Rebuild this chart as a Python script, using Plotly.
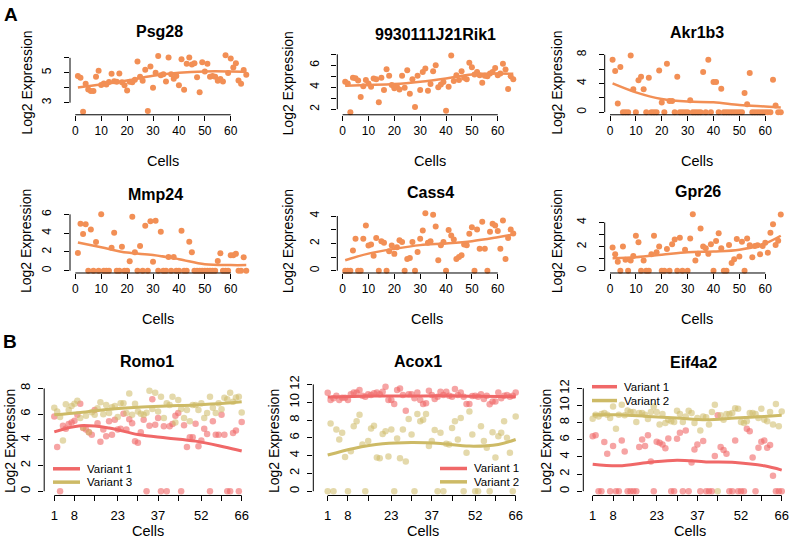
import plotly.graph_objects as go

W, H = 790, 539
FONT = "Liberation Sans, Arial, Helvetica, sans-serif"

cells = list(range(1, 67))
trend_cells = [1, 10, 20, 30, 40, 50, 60, 66]

# ---------------- Panel A data ----------------
psg28 = [4.78, 4.67, 2.4, 4.27, 3.89, 3.78, 3.78, 4.73, 5.13, 4.18,
         4.29, 4.22, 4.38, 4.93, 4.44, 4.4, 4.96, 4.36, 4.16, 3.82,
         4.4, 4.36, 4.53, 5.76, 4.73, 4.47, 5.2, 2.44, 5.42, 4.0,
         5.0, 6.13, 4.84, 4.91, 4.42, 6.02, 4.91, 4.6, 4.78, 4.16,
         5.91, 3.87, 5.6, 6.02, 5.56, 5.64, 4.71, 3.69, 5.71, 5.09,
         5.6, 4.73, 4.78, 4.73, 4.47, 4.58, 4.42, 6.18, 4.98, 5.96,
         5.36, 5.64, 4.49, 4.27, 5.18, 4.87]
psg28_trend = [4.02, 4.22, 4.49, 4.8, 5.0, 5.09, 5.09, 5.07]

rik1 = [4.5, 4.35, 1.73, 4.86, 4.83, 4.62, 3.11, 4.1, 4.65, 4.35,
        4.05, 4.8, 4.74, 2.63, 4.86, 3.74, 5.64, 5.04, 4.2, 3.9,
        4.05, 3.8, 5.04, 3.95, 5.55, 3.41, 4.74, 2.2, 5.04, 3.74,
        5.4, 5.7, 3.68, 4.29, 5.46, 6.0, 4.01, 4.26, 4.47, 1.85,
        4.05, 6.9, 4.56, 5.1, 4.65, 5.46, 4.86, 4.74, 6.24, 5.82,
        5.16, 5.4, 5.1, 4.41, 5.04, 5.0, 5.25, 5.4, 5.76, 5.1,
        5.25, 6.15, 5.61, 3.83, 5.0, 4.74]
rik1_trend = [4.14, 4.2, 4.29, 4.5, 4.8, 5.16, 5.25, 5.22]

akr1b3 = [7.3, 5.75, 1.2, 6.3, 0, 0, 0, 7.9, 3.2, 0,
          4.46, 4.92, 3.2, 0, 4.78, 0, 0, 0, 5.8, 1.33,
          0, 6.76, 1.56, 1.56, 0, 4.92, 0, 0, 0, 0,
          1.65, 0, 0, 0, 0, 5.6, 0, 7.3, 0, 4.2,
          4.2, 0, 3.26, 0, 0, 0, 0, 0, 0, 0,
          0, 2.67, 1.1, 5.47, 0, 0, 0, 0, 0, 0,
          0, 0, 4.5, 0.92, 0, 0]
akr1b3_trend = [4.0, 2.76, 1.84, 1.47, 1.38, 1.0, 0.78, 0.64]

mmp24 = [1.9, 5.0, 3.9, 4.95, 0, 4.4, 0, 3.05, 0, 6.0,
         0, 0, 0, 2.45, 4.04, 0, 0, 2.56, 0, 0,
         1.0, 5.75, 1.97, 0, 2.63, 0, 4.8, 0, 5.26, 0.95,
         5.33, 0, 4.14, 0, 0, 1.47, 0, 1.47, 0, 0,
         4.25, 0, 0, 3.09, 1.97, 0, 0, 0, 0, 0,
         0, 0, 0, 0, 1.05, 1.86, 0, 0, 0, 1.65,
         1.65, 1.8, 0, 0, 1.44, 0]
mmp24_trend = [3.0, 2.5, 1.93, 1.68, 1.23, 0.7, 0.6, 0.6]

cass4 = [0, 0, 0, 1.47, 2.33, 0, 0, 2.33, 3.31, 1.84,
         1.91, 1.1, 2.4, 0, 2.16, 2.04, 0, 1.42, 1.84, 1.23,
         1.72, 2.23, 2.09, 0, 0.86, 0.93, 2.09, 0, 1.37, 2.33,
         2.94, 4.2, 2.04, 2.16, 4.1, 3.24, 0.76, 1.87, 2.09, 0,
         2.97, 2.58, 2.28, 0.86, 1.0, 1.13, 1.91, 1.87, 2.7, 3.17,
         0, 3.02, 1.6, 3.58, 1.6, 0, 2.85, 3.44, 3.31, 2.9,
         1.6, 3.68, 0.86, 2.4, 3.02, 2.72]
cass4_trend = [0.76, 1.25, 1.6, 1.87, 1.99, 2.16, 2.45, 2.65]

gpr26 = [1.92, 1.37, 0.74, 0, 2.0, 0.9, 0, 0.85, 1.23, 2.9,
         2.36, 0, 0.85, 0, 0, 1.37, 2.9, 1.53, 2.0, 0,
         0, 1.8, 0, 2.19, 2.6, 0, 2.74, 0, 1.73, 0,
         2.68, 4.68, 0.85, 1.4, 3.5, 2.0, 1.86, 1.4, 2.19, 0,
         2.47, 3.1, 1.86, 0, 0, 2.14, 0.63, 0.96, 2.63, 1.18,
         2.41, 0, 2.68, 2.11, 1.12, 2.05, 2.11, 1.37, 2.05, 2.33,
         1.5, 3.15, 3.86, 2.14, 2.49, 4.66]
gpr26_trend = [1.04, 1.12, 1.32, 1.53, 1.59, 1.73, 2.27, 2.9]

# ---------------- Panel B data ----------------
romo1_v1 = [5.82, 3.44, 0, 5.1, 4.87, 5.23, 5.36, 5.49, 5.95, 6.8,
            4.92, 4.8, 4.6, 4.4, 6.33, 5.3, 3.85, 4.8, 4.28, 5.44,
            4.4, 5.56, 4.8, 4.87, 6.03, 4.8, 5.6, 5.3, 3.9, 3.77,
            4.6, 5.56, 0, 5.1, 7.15, 5.18, 5.7, 0, 5.05, 0,
            5.05, 5.23, 5.87, 6.08, 0, 5.13, 3.44, 4.2, 4.2, 5.26,
            3.5, 3.95, 4.87, 4.46, 0, 5.44, 4.4, 4.4, 5.95, 4.4,
            0, 0, 4.54, 4.72, 0, 5.38]
romo1_v3 = [6.5, 6.2, 5.77, 3.95, 6.77, 6.33, 6.64, 6.8, 7.05, 5.7,
            4.97, 5.87, 4.6, 6.15, 5.95, 6.46, 6.92, 6.0, 6.72, 6.08,
            6.54, 6.64, 5.77, 6.85, 6.85, 6.08, 7.6, 5.95, 6.8, 6.2,
            6.03, 5.95, 6.1, 7.82, 6.4, 7.67, 6.2, 7.36, 5.7, 6.85,
            6.72, 7.36, 5.36, 7.1, 6.4, 5.7, 6.33, 5.44, 6.72, 6.72,
            6.33, 6.85, 5.7, 6.08, 7.36, 6.5, 6.08, 6.85, 6.38, 7.28,
            7.15, 7.67, 6.97, 7.3, 7.36, 6.13]
romo1_v1_trend = [4.62, 5.1, 4.92, 4.41, 4.15, 3.9, 3.44, 3.13]
romo1_v3_trend = [5.95, 6.13, 6.38, 6.54, 6.64, 6.72, 6.85, 6.97]

acox1_v1 = [11.07, 10.26, 10.44, 10.74, 10.26, 10.5, 10.5, 10.26, 10.89, 11.1,
            11.1, 11.37, 10.74, 10.63, 10.89, 10.81, 11.0, 11.1, 10.89, 11.18,
            11.74, 10.26, 10.26, 9.81, 11.37, 11.55, 10.81, 9.04, 10.89, 10.89,
            10.44, 11.1, 10.26, 9.81, 9.89, 11.3, 10.81, 10.37, 10.63, 11.18,
            10.81, 11.18, 10.74, 10.63, 11.48, 10.81, 11.1, 10.63, 9.81, 9.81,
            10.7, 10.74, 10.63, 10.89, 10.37, 10.74, 9.78, 10.07, 10.07, 11.1,
            10.44, 10.74, 10.81, 10.63, 10.74, 11.1]
acox1_v2 = [0, 7.6, 0, 6.93, 5.81, 6.56, 3.85, 0, 4.5, 7.3,
            7.85, 8.6, 5.26, 0, 5.63, 7.04, 7.37, 3.78, 3.7, 6.44,
            6.74, 3.89, 6.93, 0, 5.93, 3.7, 6.93, 3.33, 8.11, 6.37,
            0, 8.67, 7.85, 8.04, 8.67, 5.07, 5.63, 6.89, 0, 6.56,
            0, 5.33, 5.26, 7.11, 7.85, 5.81, 8.22, 0, 4.33, 8.96,
            6.37, 0, 0, 7.3, 5.63, 4.89, 0, 6.63, 3.78, 6.19,
            6.56, 7.85, 6.0, 4.33, 0, 8.41]
acox1_v1_trend = [10.6, 10.65, 10.7, 10.7, 10.72, 10.68, 10.65, 10.62]
acox1_v2_trend = [4.07, 4.81, 5.33, 5.48, 5.37, 5.07, 5.26, 5.81]

eif4a2_v1 = [6.42, 6.54, 0, 0, 5.73, 4.38, 0, 5.27, 0, 0,
             5.92, 4.62, 0, 0, 0, 0, 5.15, 6.04, 5.27, 6.54,
             3.46, 0, 5.77, 5.65, 5.46, 5.0, 6.15, 0, 0, 6.12,
             6.81, 0, 7.08, 0, 3.35, 4.88, 5.46, 0, 5.85, 0,
             0, 0, 4.12, 8.85, 5.15, 4.8, 4.38, 0, 0, 5.92,
             0, 0, 0, 7.3, 7.0, 3.92, 0, 5.08, 5.77, 5.92,
             5.08, 5.38, 1.8, 0, 0, 0]
eif4a2_v2 = [8.46, 8.92, 8.73, 9.0, 9.12, 8.92, 8.54, 9.88, 7.3, 8.92,
             10.08, 8.85, 9.42, 9.23, 9.23, 8.08, 9.12, 9.12, 8.92, 8.42,
             9.23, 9.88, 9.23, 7.77, 9.0, 7.96, 8.35, 8.15, 8.08, 9.38,
             9.0, 8.08, 8.73, 9.38, 9.12, 7.96, 8.54, 7.08, 8.73, 8.62,
             7.77, 9.23, 10.08, 0, 8.85, 8.35, 9.0, 9.0, 9.12, 9.69,
             9.62, 8.08, 7.96, 8.15, 9.12, 9.12, 9.0, 8.54, 9.62, 8.35,
             8.15, 9.23, 7.77, 10.19, 7.58, 9.31]
eif4a2_v1_trend = [3.15, 2.96, 3.35, 3.62, 3.42, 3.35, 2.96, 2.46]
eif4a2_v2_trend = [8.92, 8.92, 8.73, 8.54, 8.35, 8.54, 8.73, 8.85]

# ---------------- tick labels ----------------
a_xticks = [0, 10, 20, 30, 40, 50, 60]
a_xlabels = ["0", "10", "20", "30", "40", "50", "60"]
b_xticks = [1, 8, 15, 23, 30, 37, 44, 52, 59, 66]
b_xlabels = ["1", "8", "", "23", "", "37", "", "52", "", "66"]

ORANGE = "#F28F55"
RED = "#F06868"
RED_PT = "rgba(240,104,104,0.6)"
KHAKI = "#CDBA66"
KHAKI_PT = "rgba(205,186,102,0.55)"

# geometry in pixels: left, right, top, bottom
panels = [
    dict(title="Psg28", px=(70, 253, 47, 110), xr=[-2.05, 68.6], yr=[2.19, 6.36],
         yt=[3, 4, 5, 6], ytl=["3", "", "5", ""], tpos=(159, 26), lpos=(27.5, 78), cpos=(163, 157),
         series=[(psg28, psg28_trend, ORANGE, ORANGE, None)]),
    dict(title="9930111J21Rik1", px=(337.3, 520, 47, 110), xr=[-2.05, 68.6], yr=[1.49, 7.17],
         yt=[2, 3, 4, 5, 6, 7], ytl=["2", "", "4", "", "6", ""], tpos=(435, 29), lpos=(288.3, 78), cpos=(430, 157),
         series=[(rik1, rik1_trend, ORANGE, ORANGE, None)]),
    dict(title="Akr1b3", px=(604.7, 787.5, 47, 110), xr=[-2.05, 68.6], yr=[-0.37, 8.32],
         yt=[0, 2, 4, 6, 8], ytl=["0", "", "4", "", "8"], tpos=(697, 27), lpos=(556.7, 78), cpos=(697, 157),
         series=[(akr1b3, akr1b3_trend, ORANGE, ORANGE, None)]),
    dict(title="Mmp24", px=(70, 253, 207, 270), xr=[-2.05, 68.6], yr=[-0.24, 6.39],
         yt=[0, 2, 4, 6], ytl=["0", "2", "4", "6"], tpos=(155, 191), lpos=(26.7, 238), cpos=(158, 317),
         series=[(mmp24, mmp24_trend, ORANGE, ORANGE, None)]),
    dict(title="Cass4", px=(337.3, 520, 207, 270), xr=[-2.05, 68.6], yr=[-0.17, 4.39],
         yt=[0, 1, 2, 3, 4], ytl=["0", "", "2", "", "4"], tpos=(430, 189), lpos=(288, 238), cpos=(427, 317),
         series=[(cass4, cass4_trend, ORANGE, ORANGE, None)]),
    dict(title="Gpr26", px=(604.7, 787.5, 207, 270), xr=[-2.05, 68.6], yr=[-0.19, 4.98],
         yt=[0, 1, 2, 3, 4], ytl=["0", "", "2", "", "4"], tpos=(698, 188), lpos=(557, 238), cpos=(697, 317),
         series=[(gpr26, gpr26_trend, ORANGE, ORANGE, None)]),
    dict(title="Romo1", px=(44.2, 249.2, 380, 495), xr=[-2.5, 68.6], yr=[-0.33, 8.52],
         yt=[0, 2, 4, 6, 8], ytl=["0", "2", "4", "6", "8"], tpos=(147, 359), lpos=(10, 440), cpos=(148, 531),
         series=[(romo1_v1, romo1_v1_trend, RED_PT, RED, "Variant 1"),
                 (romo1_v3, romo1_v3_trend, KHAKI_PT, KHAKI, "Variant 3")],
         legend=(53, 80, 468, 13.5)),
    dict(title="Acox1", px=(313.3, 523.2, 380, 495), xr=[-3.98, 68.6], yr=[-0.48, 12.3],
         yt=[0, 2, 4, 6, 8, 10, 12], ytl=["0", "2", "4", "6", "8", "10", "12"], tpos=(418, 359), lpos=(274, 440), cpos=(423, 531),
         series=[(acox1_v1, acox1_v1_trend, RED_PT, RED, "Variant 1"),
                 (acox1_v2, acox1_v2_trend, KHAKI_PT, KHAKI, "Variant 2")],
         legend=(440, 467, 467.7, 13.5)),
    dict(title="Eif4a2", px=(583.3, 790, 380, 495), xr=[-2.23, 68.85], yr=[-0.5, 12.77],
         yt=[0, 2, 4, 6, 8, 10, 12], ytl=["0", "2", "4", "6", "8", "10", "12"], tpos=(693, 361), lpos=(546, 440), cpos=(690, 531),
         series=[(eif4a2_v1, eif4a2_v1_trend, RED_PT, RED, "Variant 1"),
                 (eif4a2_v2, eif4a2_v2_trend, KHAKI_PT, KHAKI, "Variant 2")],
         legend=(592, 617, 385, 14)),
]

fig = go.Figure()
layout = dict(width=W, height=H, margin=dict(l=0, r=0, t=0, b=0),
              paper_bgcolor="white", plot_bgcolor="white", showlegend=False,
              font=dict(family=FONT, color="black"))
shapes, annotations = [], []

def px2x(p):
    return p / W

def py2y(p):
    return 1 - p / H

for i, p in enumerate(panels, start=1):
    sfx = "" if i == 1 else str(i)
    xa, ya = "x" + sfx, "y" + sfx
    L, R, T, B = p["px"]
    is_b = i >= 7
    xt = b_xticks if is_b else a_xticks
    xtl = b_xlabels if is_b else a_xlabels
    tick_size = 13 if is_b else 12
    layout["xaxis" + sfx] = dict(domain=[px2x(L), px2x(R)], range=p["xr"], anchor=ya,
                                 tickvals=xt, ticktext=xtl, ticks="outside", ticklen=5,
                                 tickcolor="black", tickwidth=1, showgrid=False, zeroline=False,
                                 showline=False, tickfont=dict(size=tick_size, family=FONT),
                                 ticklabelstandoff=3 if is_b else 0, fixedrange=True)
    layout["yaxis" + sfx] = dict(domain=[py2y(B), py2y(T)], range=p["yr"], anchor=xa,
                                 tickvals=p["yt"], ticktext=p["ytl"], ticks="outside", ticklen=5,
                                 tickcolor="black", tickwidth=1, showgrid=False, zeroline=False,
                                 showline=False, tickangle=-90,
                                 tickfont=dict(size=tick_size, family=FONT),
                                 ticklabelstandoff=3 if is_b else 8, fixedrange=True)
    # R-style axis lines spanning first..last tick
    shapes.append(dict(type="line", xref=xa + " domain", yref=ya, x0=0, x1=0,
                       y0=p["yt"][0], y1=p["yt"][-1], line=dict(color="black", width=1)))
    shapes.append(dict(type="line", xref=xa, yref=ya + " domain", x0=xt[0], x1=xt[-1],
                       y0=0, y1=0, line=dict(color="black", width=1)))
    for vals, trend, pt_col, ln_col, name in p["series"]:
        fig.add_trace(go.Scatter(x=cells, y=vals, mode="markers", xaxis=xa, yaxis=ya,
                                 marker=dict(color=pt_col, size=6.5 if is_b else 6, line=dict(width=0)),
                                 showlegend=False, cliponaxis=False))
    for vals, trend, pt_col, ln_col, name in p["series"]:
        fig.add_trace(go.Scatter(x=trend_cells, y=trend, mode="lines", xaxis=xa, yaxis=ya,
                                 line=dict(color=ln_col, width=3 if is_b else 2.5, shape="spline",
                                           smoothing=1.0),
                                 name=name or p["title"], showlegend=False))
    # title
    annotations.append(dict(text="<b>%s</b>" % p["title"], x=px2x(p["tpos"][0]), y=py2y(p["tpos"][1]),
                            xref="paper", yref="paper", showarrow=False, xanchor="center",
                            yanchor="middle", font=dict(size=16, family=FONT)))
    annotations.append(dict(text="Log2 Expression", x=px2x(p["lpos"][0]), y=py2y(p["lpos"][1]),
                            xref="paper", yref="paper", showarrow=False, textangle=-90,
                            xanchor="center", yanchor="middle", font=dict(size=14, family=FONT)))
    annotations.append(dict(text="Cells", x=px2x(p["cpos"][0]), y=py2y(p["cpos"][1]),
                            xref="paper", yref="paper", showarrow=False, xanchor="center",
                            yanchor="middle", font=dict(size=14.5, family=FONT)))
    if "legend" in p:
        x0, x1, y0, dy = p["legend"]
        for k, (vals, trend, pt_col, ln_col, name) in enumerate(p["series"]):
            yy = y0 + k * dy
            shapes.append(dict(type="line", xref="paper", yref="paper", x0=px2x(x0), x1=px2x(x1),
                               y0=py2y(yy), y1=py2y(yy), line=dict(color=ln_col, width=3.5)))
            annotations.append(dict(text=name, x=px2x(x1 + 5), y=py2y(yy), xref="paper", yref="paper",
                                    showarrow=False, xanchor="left", yanchor="middle",
                                    font=dict(size=11.5, family=FONT)))

annotations.append(dict(text="<b>A</b>", x=px2x(2), y=py2y(9), xref="paper", yref="paper",
                        showarrow=False, xanchor="left", yanchor="middle", font=dict(size=19, family=FONT)))
annotations.append(dict(text="<b>B</b>", x=px2x(1), y=py2y(339), xref="paper", yref="paper",
                        showarrow=False, xanchor="left", yanchor="middle", font=dict(size=19, family=FONT)))

layout["shapes"] = shapes
layout["annotations"] = annotations
fig.update_layout(**layout)
fig.write_html("out.html", config={"displayModeBar": False},
               post_script="document.body.style.margin='0';document.body.style.padding='0';")
